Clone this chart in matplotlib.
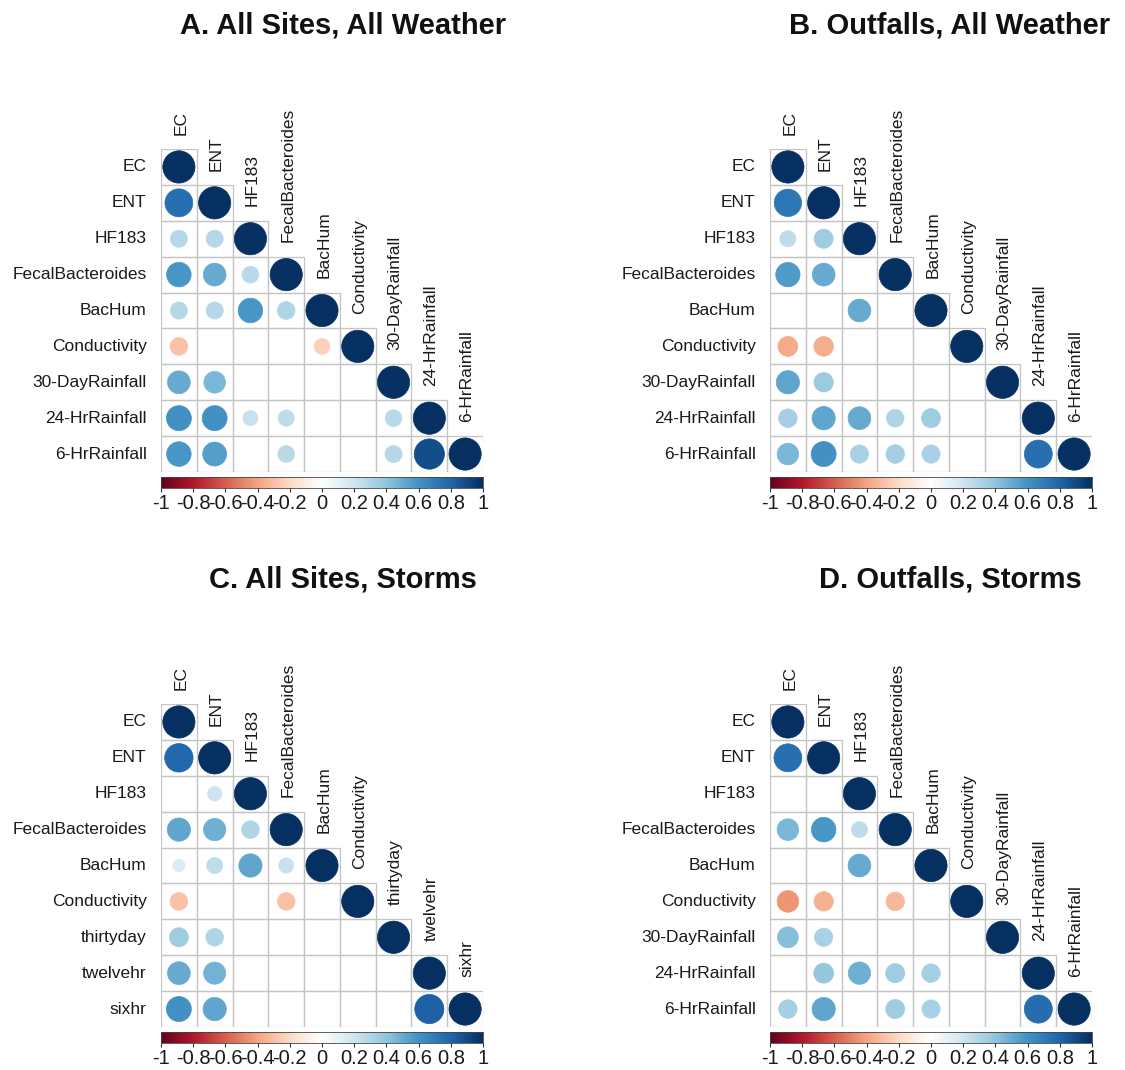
import numpy as np
import matplotlib
matplotlib.use("Agg")
import matplotlib.pyplot as plt
from matplotlib.colors import LinearSegmentedColormap
from matplotlib.patches import Circle, Rectangle

plt.rcParams['font.family'] = ['Liberation Sans', 'DejaVu Sans']

nan = np.nan

vars_rain = ["EC", "ENT", "HF183", "FecalBacteroides", "BacHum", "Conductivity",
             "30-DayRainfall", "24-HrRainfall", "6-HrRainfall"]
vars_storm = ["EC", "ENT", "HF183", "FecalBacteroides", "BacHum", "Conductivity",
              "thirtyday", "twelvehr", "sixhr"]

# lower triangles, row by row (blank = not significant)
corr_a = [
    [1],
    [0.75, 1],
    [0.28, 0.28, 1],
    [0.58, 0.50, 0.27, 1],
    [0.28, 0.28, 0.58, 0.30, 1],
    [-0.30, nan, nan, nan, -0.24, 1],
    [0.50, 0.45, nan, nan, nan, nan, 1],
    [0.60, 0.60, 0.22, 0.25, nan, nan, 0.27, 1],
    [0.58, 0.55, nan, 0.27, nan, nan, 0.28, 0.88, 1],
]
corr_b = [
    [1],
    [0.72, 1],
    [0.25, 0.35, 1],
    [0.57, 0.50, nan, 1],
    [nan, nan, 0.50, nan, 1],
    [-0.38, -0.37, nan, nan, nan, 1],
    [0.52, 0.36, nan, nan, nan, nan, 1],
    [0.33, 0.52, 0.50, 0.30, 0.35, nan, nan, 1],
    [0.45, 0.60, 0.32, 0.33, 0.32, nan, nan, 0.75, 1],
]
corr_c = [
    [1],
    [0.78, 1],
    [nan, 0.20, 1],
    [0.52, 0.48, 0.30, 1],
    [0.15, 0.25, 0.52, 0.22, 1],
    [-0.30, nan, nan, -0.30, nan, 1],
    [0.35, 0.30, nan, nan, nan, nan, 1],
    [0.50, 0.47, nan, nan, nan, nan, nan, 1],
    [0.60, 0.52, nan, nan, nan, nan, nan, 0.82, 1],
]
corr_d = [
    [1],
    [0.75, 1],
    [nan, nan, 1],
    [0.45, 0.58, 0.25, 1],
    [nan, nan, 0.50, nan, 1],
    [-0.45, -0.36, nan, -0.33, nan, 1],
    [0.42, 0.32, nan, nan, nan, nan, 1],
    [nan, 0.38, 0.48, 0.35, 0.33, nan, nan, 1],
    [0.33, 0.52, nan, 0.35, 0.32, nan, nan, 0.76, 1],
]

titles = ["A. All Sites, All Weather", "B. Outfalls, All Weather",
          "C. All Sites, Storms", "D. Outfalls, Storms"]

cbar_ticks = [-1, -0.8, -0.6, -0.4, -0.2, 0, 0.2, 0.4, 0.6, 0.8, 1]
cbar_labels = ["-1", "-0.8", "-0.6", "-0.4", "-0.2", "0", "0.2", "0.4", "0.6", "0.8", "1"]

cmap = LinearSegmentedColormap.from_list(
    "corr", ["#67001F", "#B2182B", "#D6604D", "#F4A582", "#FDDBC7", "#FFFFFF",
             "#D1E5F0", "#92C5DE", "#4393C3", "#2166AC", "#053061"], N=200)

W, H = 1125, 1070
fig = plt.figure(figsize=(W / 100, H / 100), dpi=100)


def px_axes(x0, y0, x1, y1):
    return fig.add_axes([x0 / W, 1 - y1 / H, (x1 - x0) / W, (y1 - y0) / H])


def corr_panel(x0, y0, corr, labels, title, title_x):
    n = len(labels)
    x1, y1 = x0 + 322, y0 + 323
    ax = px_axes(x0, y0, x1, y1)
    ax.set_xlim(0, n)
    ax.set_ylim(n, 0)
    ax.axis("off")
    for i, row in enumerate(corr):
        for j, r in enumerate(row):
            ax.add_patch(Rectangle((j, i), 1, 1, facecolor="none",
                                   edgecolor="#C4C4C4", lw=0.9, zorder=1))
            if np.isnan(r):
                continue
            c = cmap((r + 1) / 2)
            ax.add_patch(Circle((j + 0.5, i + 0.5), 0.45 * np.sqrt(abs(r)),
                                facecolor=c, edgecolor=c, lw=0.5, zorder=2))
        ax.text(-0.4, i + 0.5, labels[i], ha="right", va="center",
                fontsize=12.5, color="#1a1a1a")
        ax.text(i + 0.55, i - 0.4, labels[i], ha="center", va="bottom",
                rotation=90, fontsize=12.5, color="#1a1a1a")

    # colour legend under the matrix
    cax = px_axes(x0, y1 + 5, x1, y1 + 16)
    grad = np.linspace(-1, 1, 200).reshape(1, -1)
    cax.imshow(grad, cmap=cmap, aspect="auto", extent=(-1, 1, 0, 1))
    cax.set_xlim(-1, 1)
    cax.set_yticks([])
    cax.set_xticks(cbar_ticks)
    cax.set_xticklabels(cbar_labels)
    cax.tick_params(axis="x", length=3, width=0.8, pad=1.5, labelsize=14.5,
                    color="#333333", labelcolor="#1a1a1a")
    for s in cax.spines.values():
        s.set_linewidth(0.6)
        s.set_color("#444444")

    fig.text(title_x / W, 1 - (y0 - 124) / H, title, ha="center", va="center",
             fontsize=21, fontweight="bold", color="#111111")


corr_panel(161, 149, corr_a, vars_rain, titles[0], 343)
corr_panel(770, 149, corr_b, vars_rain, titles[1], 950)
corr_panel(161, 704, corr_c, vars_storm, titles[2], 343)
corr_panel(770, 704, corr_d, vars_rain, titles[3], 950)

fig.savefig("out.png", dpi=100, facecolor="white")
